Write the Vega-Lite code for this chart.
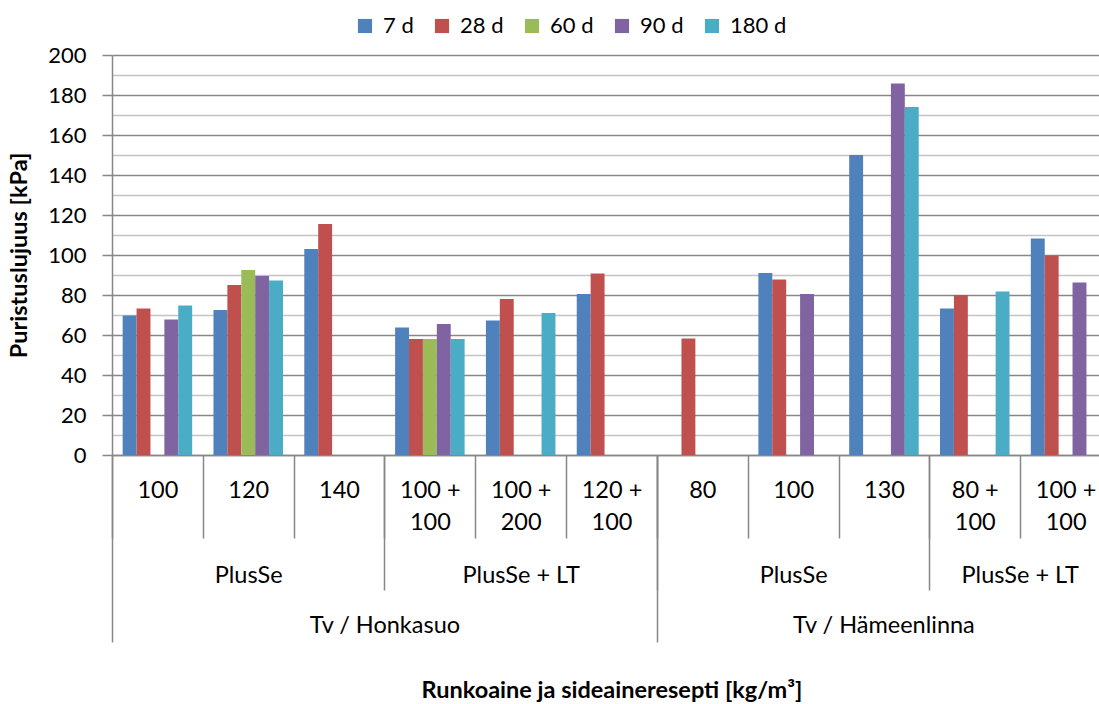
{
  "$schema": "https://vega.github.io/schema/vega-lite/v6.json",
  "width": 999,
  "height": 400,
  "autosize": {"type": "none"},
  "padding": {"left": 112, "top": 55, "right": -12, "bottom": 249},
  "background": "white",
  "config": {
    "view": {"stroke": null},
    "font": "Lato",
    "axis": {"labelFont": "Lato", "titleFont": "Lato", "labelColor": "#000000", "titleColor": "#000000", "labelFontSize": 23.5, "titleFontSize": 23.5, "titleFontWeight": "bold", "labelOverlap": false, "labelLimit": 400}
  },
  "data": {
    "values": [
      {"cat": "Tv / Honkasuo|PlusSe|100", "series": "7 d", "value": 69.7},
      {"cat": "Tv / Honkasuo|PlusSe|100", "series": "28 d", "value": 73.3},
      {"cat": "Tv / Honkasuo|PlusSe|100", "series": "90 d", "value": 67.7},
      {"cat": "Tv / Honkasuo|PlusSe|100", "series": "180 d", "value": 74.8},
      {"cat": "Tv / Honkasuo|PlusSe|120", "series": "7 d", "value": 72.5},
      {"cat": "Tv / Honkasuo|PlusSe|120", "series": "28 d", "value": 85},
      {"cat": "Tv / Honkasuo|PlusSe|120", "series": "60 d", "value": 92.5},
      {"cat": "Tv / Honkasuo|PlusSe|120", "series": "90 d", "value": 89.5},
      {"cat": "Tv / Honkasuo|PlusSe|120", "series": "180 d", "value": 87.3},
      {"cat": "Tv / Honkasuo|PlusSe|140", "series": "7 d", "value": 103},
      {"cat": "Tv / Honkasuo|PlusSe|140", "series": "28 d", "value": 115.5},
      {"cat": "Tv / Honkasuo|PlusSe + LT|100 + 100", "series": "7 d", "value": 63.7},
      {"cat": "Tv / Honkasuo|PlusSe + LT|100 + 100", "series": "28 d", "value": 58},
      {"cat": "Tv / Honkasuo|PlusSe + LT|100 + 100", "series": "60 d", "value": 58},
      {"cat": "Tv / Honkasuo|PlusSe + LT|100 + 100", "series": "90 d", "value": 65.5},
      {"cat": "Tv / Honkasuo|PlusSe + LT|100 + 100", "series": "180 d", "value": 58},
      {"cat": "Tv / Honkasuo|PlusSe + LT|100 + 200", "series": "7 d", "value": 67.3},
      {"cat": "Tv / Honkasuo|PlusSe + LT|100 + 200", "series": "28 d", "value": 78},
      {"cat": "Tv / Honkasuo|PlusSe + LT|100 + 200", "series": "180 d", "value": 71},
      {"cat": "Tv / Honkasuo|PlusSe + LT|120 + 100", "series": "7 d", "value": 80.5},
      {"cat": "Tv / Honkasuo|PlusSe + LT|120 + 100", "series": "28 d", "value": 90.8},
      {"cat": "Tv / Hämeenlinna|PlusSe|80", "series": "28 d", "value": 58.3},
      {"cat": "Tv / Hämeenlinna|PlusSe|100", "series": "7 d", "value": 91},
      {"cat": "Tv / Hämeenlinna|PlusSe|100", "series": "28 d", "value": 87.8},
      {"cat": "Tv / Hämeenlinna|PlusSe|100", "series": "90 d", "value": 80.5},
      {"cat": "Tv / Hämeenlinna|PlusSe|130", "series": "7 d", "value": 150},
      {"cat": "Tv / Hämeenlinna|PlusSe|130", "series": "90 d", "value": 185.8},
      {"cat": "Tv / Hämeenlinna|PlusSe|130", "series": "180 d", "value": 174},
      {"cat": "Tv / Hämeenlinna|PlusSe + LT|80 + 100", "series": "7 d", "value": 73.3},
      {"cat": "Tv / Hämeenlinna|PlusSe + LT|80 + 100", "series": "28 d", "value": 80},
      {"cat": "Tv / Hämeenlinna|PlusSe + LT|80 + 100", "series": "180 d", "value": 81.7},
      {"cat": "Tv / Hämeenlinna|PlusSe + LT|100 + 100", "series": "7 d", "value": 108.3},
      {"cat": "Tv / Hämeenlinna|PlusSe + LT|100 + 100", "series": "28 d", "value": 99.7},
      {"cat": "Tv / Hämeenlinna|PlusSe + LT|100 + 100", "series": "90 d", "value": 86.3}
    ]
  },
  "layer": [
    {
      "mark": {"type": "bar"},
      "encoding": {
        "x": {
          "field": "cat", "type": "nominal", "sort": null,
          "scale": {"paddingInner": 0, "paddingOuter": 0},
          "axis": {
            "orient": "bottom", "title": null, "grid": false,
            "tickBand": "extent", "tickSize": 83, "tickColor": "#878787", "tickWidth": 1.5,
            "domainColor": "#878787", "domainWidth": 1.5,
            "labelPadding": -60, "labelLineHeight": 32, "labelAngle": 0,
            "labelExpr": "isString(datum.value) ? (indexof(split(datum.value,'|')[2],'+') >= 0 ? [split(split(datum.value,'|')[2],' + ')[0] + ' +', split(split(datum.value,'|')[2],' + ')[1]] : split(datum.value,'|')[2]) : ''"
          }
        },
        "xOffset": {
          "field": "series", "type": "nominal",
          "scale": {"domain": ["7 d", "28 d", "60 d", "90 d", "180 d"], "paddingInner": 0, "paddingOuter": 0.766}
        },
        "y": {
          "field": "value", "type": "quantitative",
          "scale": {"domain": [0, 200], "nice": false},
          "axis": {
            "title": "Puristuslujuus [kPa]", "titlePadding": 16,
            "values": [0, 10, 20, 30, 40, 50, 60, 70, 80, 90, 100, 110, 120, 130, 140, 150, 160, 170, 180, 190, 200],
            "labelExpr": "datum.value % 20 == 0 ? datum.label : ''",
            "labelFontSize": 22,
            "grid": true,
            "gridColor": {"condition": {"test": "datum.value % 20 == 0", "value": "#878787"}, "value": "#c4c4c4"},
            "gridWidth": 1.5,
            "tickOpacity": {"condition": {"test": "datum.value % 20 == 0", "value": 1}, "value": 0},
            "tickSize": 10, "tickColor": "#878787", "tickWidth": 1.5,
            "domainColor": "#878787", "domainWidth": 1.5,
            "labelPadding": 16
          }
        },
        "color": {
          "field": "series", "type": "nominal",
          "scale": {"domain": ["7 d", "28 d", "60 d", "90 d", "180 d"], "range": ["#4F81BD", "#C0504D", "#9BBB59", "#8064A2", "#4BACC6"]},
          "legend": {
            "orient": "none", "legendX": 242, "legendY": -40, "direction": "horizontal",
            "title": null, "symbolType": "square", "symbolSize": 200, "symbolStrokeWidth": 0,
            "labelFontSize": 22, "labelFont": "Lato", "labelColor": "#000000",
            "columnPadding": 17, "labelOffset": 7, "padding": 0
          }
        }
      }
    },
    {
      "mark": {"type": "point", "opacity": 0},
      "encoding": {
        "x": {
          "field": "cat", "type": "nominal", "sort": null,
          "axis": {
            "orient": "bottom", "title": null, "grid": false, "domain": false,
            "tickBand": "extent", "tickSize": 135, "tickColor": "#878787", "tickWidth": 1.5,
            "tickOpacity": {"condition": {"test": "datum.value == 'Tv / Honkasuo|PlusSe|140' || datum.value == 'Tv / Honkasuo|PlusSe + LT|120 + 100' || datum.value == 'Tv / Hämeenlinna|PlusSe|130'", "value": 1}, "value": 0},
            "labelPadding": -26.6, "labelAngle": 0, "labelOffset": -90.82,
            "labelExpr": "(datum.value == 'Tv / Honkasuo|PlusSe|140' || datum.value == 'Tv / Honkasuo|PlusSe + LT|120 + 100' || datum.value == 'Tv / Hämeenlinna|PlusSe|130') ? split(datum.value,'|')[1] : ''"
          }
        }
      }
    },
    {
      "mark": {"type": "point", "opacity": 0},
      "encoding": {
        "x": {
          "field": "cat", "type": "nominal", "sort": null,
          "axis": {
            "orient": "bottom", "title": null, "grid": false, "domain": false, "ticks": false,
            "labelPadding": 108.4, "labelAngle": 0, "labelOffset": -45.41,
            "labelExpr": "datum.value == 'Tv / Hämeenlinna|PlusSe + LT|100 + 100' ? split(datum.value,'|')[1] : ''"
          }
        }
      }
    },
    {
      "mark": {"type": "point", "opacity": 0},
      "encoding": {
        "x": {
          "field": "cat", "type": "nominal", "sort": null,
          "axis": {
            "orient": "bottom", "title": null, "grid": false, "domain": false,
            "tickBand": "extent", "tickSize": 187, "tickColor": "#878787", "tickWidth": 1.5,
            "tickOpacity": {"condition": {"test": "datum.value == 'Tv / Honkasuo|PlusSe + LT|120 + 100' || !isString(datum.value)", "value": 1}, "value": 0},
            "labelPadding": -29, "labelAngle": 0, "labelOffset": -227.05,
            "labelExpr": "datum.value == 'Tv / Honkasuo|PlusSe + LT|120 + 100' ? split(datum.value,'|')[0] : ''"
          }
        }
      }
    },
    {
      "mark": {"type": "point", "opacity": 0},
      "encoding": {
        "x": {
          "field": "cat", "type": "nominal", "sort": null,
          "axis": {
            "orient": "bottom", "grid": false, "domain": false, "ticks": false,
            "labelPadding": 158, "labelAngle": 0, "labelOffset": -181.64,
            "labelExpr": "datum.value == 'Tv / Hämeenlinna|PlusSe + LT|100 + 100' ? split(datum.value,'|')[0] : ''",
            "title": "Runkoaine ja sideaineresepti [kg/m³]", "titlePadding": 41.5
          }
        }
      }
    }
  ],
  "resolve": {"axis": {"x": "independent"}}
}
